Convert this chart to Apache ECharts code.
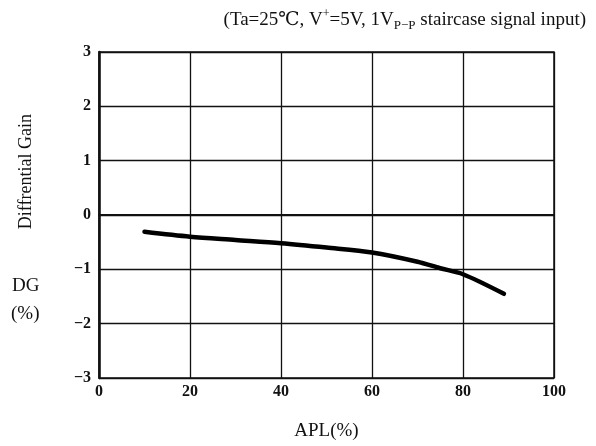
<!DOCTYPE html>
<html>
<head>
<meta charset="utf-8">
<script src="https://cdn.jsdelivr.net/npm/echarts@6/dist/echarts.min.js"></script>
<style>
  html, body { margin: 0; padding: 0; background: #fff; }
  #chart { width: 596px; height: 446px; }
</style>
</head>
<body>
<div id="chart"></div>
<script>
// APL (%) vs differential gain (%)
const aplValues = [10, 20, 30, 40, 50, 60, 70, 75, 80, 89];
const dgValues = [-0.31, -0.40, -0.46, -0.52, -0.60, -0.69, -0.86, -0.98, -1.09, -1.45];
const xTicks = [0, 20, 40, 60, 80, 100];
const yTicks = [-3, -2, -1, 0, 1, 2, 3];

const serif = '"Liberation Serif", "DejaVu Serif", serif';
const chart = echarts.init(document.getElementById('chart'));

const minus = (v) => (v < 0 ? '\u2212' + Math.abs(v) : String(v));

let option = {
   animation: false,
   title: {
      text: '(Ta=25\u2103, V{sup|+}=5V, 1V{sub|P\u2212P} staircase signal input)',
      right: 5,
      top: 3,
      textStyle: {
         fontFamily: serif,
         fontSize: 19,
         fontWeight: 'normal',
         color: '#111',
         lineHeight: 24,
         rich: {
            sup: { fontFamily: serif, fontSize: 12, verticalAlign: 'top', lineHeight: 24, color: '#111' },
            sub: { fontFamily: serif, fontSize: 13, verticalAlign: 'bottom', lineHeight: 20, color: '#111' },
         }
      }
   },
   grid: {
      left: 99,
      right: 42,
      top: 52,
      bottom: 68,
      show: true,
      borderColor: '#111',
      borderWidth: 1.5,
   },
   xAxis: {
      type: 'value',
      min: xTicks[0],
      max: xTicks[xTicks.length - 1],
      interval: 20,
      name: 'APL(%)',
      nameLocation: 'middle',
      nameGap: 44,
      nameTextStyle: { fontFamily: serif, fontSize: 19, color: '#111' },
      axisLine: { show: true, lineStyle: { color: '#111', width: 2 } },
      axisTick: { show: false },
      splitLine: { show: true, lineStyle: { color: '#111', width: 1.3 } },
      axisLabel: {
         fontFamily: serif, fontSize: 16, fontWeight: 'bold', color: '#111', margin: 6,
         formatter: (v) => (xTicks.includes(v) ? String(v) : ''),
      },
   },
   yAxis: {
      type: 'value',
      min: yTicks[0],
      max: yTicks[yTicks.length - 1],
      interval: 1,
      axisLine: { show: true, lineStyle: { color: '#111', width: 2.5 } },
      axisTick: { show: false },
      splitLine: { show: true, lineStyle: { color: '#111', width: 1.3 } },
      axisLabel: {
         fontFamily: serif, fontSize: 16, fontWeight: 'bold', color: '#111', margin: 8,
         formatter: (v) => minus(v),
      },
   },
   graphic: [
      {
         type: 'text', left: 17, top: 114, rotation: Math.PI / 2,
         style: { text: 'Diffrential Gain', font: '18px ' + serif, fill: '#111' },
      },
      {
         type: 'text', left: 12, top: 277,
         style: { text: 'DG', font: '19px ' + serif, fill: '#111' },
      },
      {
         type: 'text', left: 11, top: 305,
         style: { text: '(%)', font: '19px ' + serif, fill: '#111' },
      },
   ],
   series: [
      {
         type: 'line',
         data: aplValues.map((x, i) => [x, dgValues[i]]),
         smooth: 0.3,
         showSymbol: false,
         lineStyle: { color: '#000', width: 4.5, cap: 'round' },
      }
   ],
};
chart.setOption(option);
</script>
</body>
</html>
